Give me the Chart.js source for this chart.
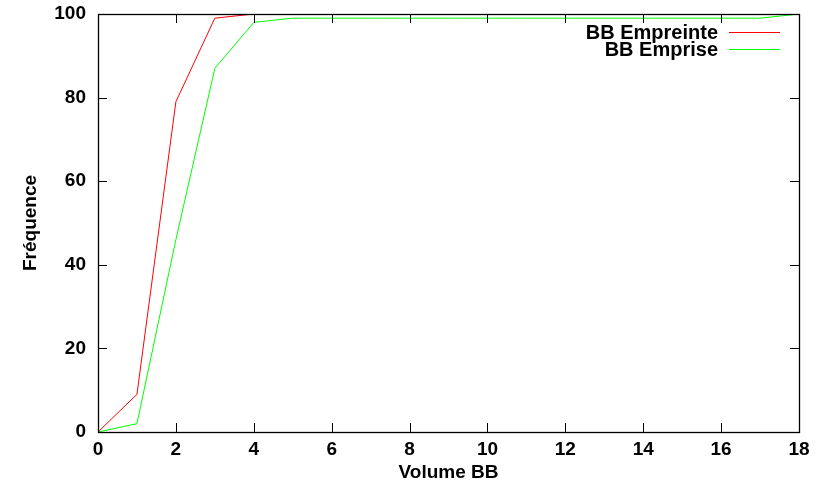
<!DOCTYPE html>
<html>
<head>
<meta charset="utf-8">
<script src="https://cdn.jsdelivr.net/npm/chart.js@4.4.0/dist/chart.umd.min.js"></script>
<style>
  html, body { margin: 0; padding: 0; background: #fff; }
  #wrap { width: 823px; height: 486px; }
</style>
</head>
<body>
<div id="wrap"><canvas id="c" width="823" height="486"></canvas></div>
<script>
const volumes = [0, 1, 2, 3, 4, 5, 6, 7, 8, 9, 10, 11, 12, 13, 14, 15, 16, 17, 18];
const empreinte = [0, 9, 79, 99, 100, 100, 100, 100, 100, 100, 100, 100, 100, 100, 100, 100, 100, 100, 100];
const emprise = [0, 2, 46, 87, 98, 99, 99, 99, 99, 99, 99, 99, 99, 99, 99, 99, 99, 99, 100];
const seriesNames = ['BB Empreinte', 'BB Emprise'];
const xTitle = 'Volume BB';
const yTitle = 'Fréquence';

const FONT = 'Liberation Sans, Arial, Helvetica, sans-serif';

const framePlugin = {
  id: 'frame',
  afterDatasetsDraw(chart) {
    const ctx = chart.ctx;
    const a = chart.chartArea;
    const xs = chart.scales.x, ys = chart.scales.y;
    ctx.save();
    ctx.strokeStyle = '#000';
    ctx.lineWidth = 1;
    ctx.beginPath();
    const tl = 9;
    xs.ticks.forEach(t => {
      const px = Math.round(xs.getPixelForValue(t.value)) + 0.5;
      ctx.moveTo(px, a.bottom); ctx.lineTo(px, a.bottom - tl);
      ctx.moveTo(px, a.top); ctx.lineTo(px, a.top + tl);
    });
    ys.ticks.forEach(t => {
      const py = Math.round(ys.getPixelForValue(t.value)) + 0.5;
      ctx.moveTo(a.left, py); ctx.lineTo(a.left + tl, py);
      ctx.moveTo(a.right, py); ctx.lineTo(a.right - tl, py);
    });
    ctx.stroke();
    ctx.lineWidth = 1.3;
    ctx.strokeRect(Math.round(a.left) + 0.5, Math.round(a.top) + 0.5,
                   Math.round(a.right - a.left), Math.round(a.bottom - a.top));
    ctx.font = 'bold 20px ' + FONT;
    ctx.textAlign = 'right';
    ctx.textBaseline = 'middle';
    const textRight = a.right - 81;
    chart.data.datasets.forEach((ds, i) => {
      const y = a.top + 18 + i * 17;
      ctx.fillStyle = '#000';
      ctx.fillText(ds.label, textRight, y + 1);
      ctx.strokeStyle = ds.borderColor;
      ctx.lineWidth = 1;
      ctx.beginPath();
      ctx.moveTo(textRight + 11, Math.round(y) + 0.5);
      ctx.lineTo(textRight + 62, Math.round(y) + 0.5);
      ctx.stroke();
    });
    ctx.restore();
  }
};

new Chart(document.getElementById('c'), {
  type: 'line',
  data: {
    datasets: [
      {
        label: seriesNames[0],
        data: volumes.map((v, i) => ({ x: v, y: empreinte[i] })),
        borderColor: '#ff0000',
        borderWidth: 1,
        pointRadius: 0,
        tension: 0,
        fill: false
      },
      {
        label: seriesNames[1],
        data: volumes.map((v, i) => ({ x: v, y: emprise[i] })),
        borderColor: '#00ff00',
        borderWidth: 1,
        pointRadius: 0,
        tension: 0,
        fill: false
      }
    ]
  },
  options: {
    responsive: false,
    animation: false,
    devicePixelRatio: 1,
    layout: { padding: { left: 0, right: 24, top: 14, bottom: 0 } },
    plugins: {
      legend: { display: false },
      tooltip: { enabled: false }
    },
    scales: {
      x: {
        type: 'linear',
        min: 0, max: 18,
        ticks: { stepSize: 2, color: '#000', font: { family: FONT, size: 19, weight: 'bold' }, padding: 6, maxRotation: 0 },
        grid: { display: false, drawTicks: false },
        border: { display: false },
        title: { display: true, text: xTitle, color: '#000', font: { family: FONT, size: 19, weight: 'bold' }, padding: { top: 0, bottom: 2 } },
        afterFit(s) { s.height = 54; s.paddingLeft = 0; s.paddingRight = 0; }
      },
      y: {
        type: 'linear',
        min: 0, max: 100,
        ticks: { stepSize: 20, color: '#000', font: { family: FONT, size: 19, weight: 'bold' }, padding: 12 },
        grid: { display: false, drawTicks: false },
        border: { display: false },
        title: { display: true, text: yTitle, color: '#000', font: { family: FONT, size: 19, weight: 'bold' }, padding: { top: 19, bottom: 0 } },
        afterFit(s) { s.width = 98; s.paddingTop = 0; s.paddingBottom = 0; }
      }
    }
  },
  plugins: [framePlugin]
});
</script>
</body>
</html>
